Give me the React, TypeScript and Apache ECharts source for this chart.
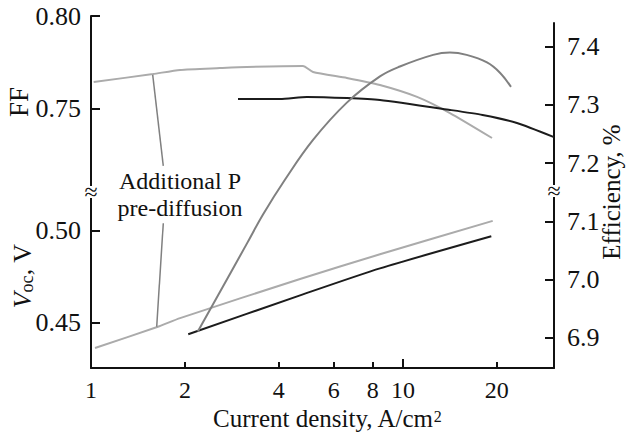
import React, { useEffect, useRef } from "react";
import * as echarts from "echarts";

// ---- tick labels ----
const xTickLabels = [1, 2, 4, 6, 8, 10, 20];
const xMinorTicks = [2, 4, 6, 8, 20];
const xMajorTicks = [10];
const ffTicks = [0.75, 0.8];
const vocTicks = [0.45, 0.5];
const effTicks = [6.9, 7.0, 7.1, 7.2, 7.3, 7.4];

// ---- FF, additional P pre-diffusion (light gray) ----
const ffPJ = [1.02, 1.58, 1.93, 2.59, 3.16, 4.78, 5.15, 6.61, 8.44, 11.1, 14.15, 19.3];
const ffP = [0.7645, 0.7688, 0.771, 0.772, 0.7726, 0.7731, 0.7699, 0.7667, 0.7629, 0.7565, 0.7478, 0.7344];

// ---- FF, reference (black) ----
const ffRefJ = [2.96, 4.04, 4.92, 6.61, 8.44, 14.15, 18.0, 23.2, 30.5];
const ffRef = [0.7554, 0.7554, 0.7565, 0.7559, 0.7548, 0.7495, 0.7468, 0.7425, 0.7349];

// ---- Voc, additional P pre-diffusion (light gray) ----
const vocPJ = [1.03, 1.63, 1.93, 4.68, 8.44, 19.4];
const vocP = [0.436, 0.4474, 0.4523, 0.4736, 0.4871, 0.5053];

// ---- Voc, reference (black) ----
const vocRefJ = [2.05, 4.68, 8.44, 19.2];
const vocRef = [0.4435, 0.4647, 0.4794, 0.4969];

// ---- Efficiency (mid gray) ----
const effJ = [2.2, 3.16, 3.56, 4.19, 5.15, 6.61, 8.44, 9.78, 12.5, 14.15, 16.0, 18.6, 20.5, 22.2];
const eff = [6.911, 7.062, 7.112, 7.172, 7.24, 7.304, 7.349, 7.366, 7.386, 7.39, 7.386, 7.373, 7.355, 7.331];

// ---- annotation leader lines (data coordinates) ----
const leaderFF = [[1.577, 0.7683], [1.705, 0.7194]];
const leaderVoc = [[1.705, 0.504], [1.624, 0.4476]];

const FONT = "'Liberation Serif', 'Times New Roman', serif";
const LIGHT = "#ababab";
const MID = "#808080";
const DARK = "#1c1c1c";
const INK = "#111111";

const zip = (xs: number[], ys: number[]) => xs.map((x, i) => [x, ys[i]]);

export default function App() {
  const ref = useRef<HTMLDivElement>(null);
  useEffect(() => {
    if (!ref.current) return;
    const chart = echarts.init(ref.current, undefined, { renderer: "svg" });
    const axisLine = { show: true, lineStyle: { color: INK, width: 2 } };
    const labelBase = { color: INK, fontFamily: FONT, fontSize: 26 };
    const option: any = {
      animation: false,
      grid: [
        { left: 91, right: 72, top: 16, bottom: 66 },
        { left: 91, right: 72, top: 23, bottom: 66 },
      ],
      xAxis: [
        {
          type: "log",
          gridIndex: 0,
          min: 1,
          max: 30.5,
          logBase: 10,
          axisLine,
          splitLine: { show: false },
          minorTick: { show: false },
          axisTick: { show: true, inside: true, length: 6, customValues: xMinorTicks, lineStyle: { color: INK, width: 2 } },
          axisLabel: { ...labelBase, fontSize: 24, lineHeight: 18, margin: 13, customValues: xTickLabels, formatter: (v: number) => String(Math.round(v)) },
        },
        {
          type: "log",
          gridIndex: 1,
          min: 1,
          max: 30.5,
          logBase: 10,
          axisLine: { show: false },
          splitLine: { show: false },
          axisTick: { show: true, inside: true, length: 9, customValues: xMajorTicks, lineStyle: { color: INK, width: 2 } },
          axisLabel: { show: false },
        },
      ],
      yAxis: [
        {
          type: "value",
          gridIndex: 0,
          position: "left",
          min: 0.61075,
          max: 0.8,
          axisLine,
          splitLine: { show: false },
          axisTick: { show: true, inside: true, length: 9, customValues: ffTicks, lineStyle: { color: INK, width: 2 } },
          axisLabel: { ...labelBase, margin: 10, customValues: ffTicks, formatter: (v: number) => v.toFixed(2) },
        },
        {
          type: "value",
          gridIndex: 0,
          position: "left",
          min: 0.42508,
          max: 0.61701,
          axisLine: { show: false },
          splitLine: { show: false },
          axisTick: { show: true, inside: true, length: 9, customValues: vocTicks, lineStyle: { color: INK, width: 2 } },
          axisLabel: { ...labelBase, margin: 10, customValues: vocTicks, formatter: (v: number) => v.toFixed(2) },
        },
        {
          type: "value",
          gridIndex: 1,
          position: "right",
          min: 6.8485,
          max: 7.4407,
          axisLine,
          splitLine: { show: false },
          axisTick: { show: true, inside: true, length: 9, customValues: effTicks, lineStyle: { color: INK, width: 2 } },
          axisLabel: { ...labelBase, margin: 13, customValues: effTicks, formatter: (v: number) => v.toFixed(1) },
        },
      ],
      series: [
        {
          type: "line",
          name: "FF P pre-diffusion",
          xAxisIndex: 0,
          yAxisIndex: 0,
          data: zip(ffPJ, ffP),
          showSymbol: false,
          smooth: 0.2,
          lineStyle: { color: LIGHT, width: 2 },
          markLine: {
            silent: true,
            symbol: ["none", "none"],
            label: { show: false },
            lineStyle: { color: MID, width: 1.5, type: "solid" },
            data: [[{ coord: leaderFF[0] }, { coord: leaderFF[1] }]],
          },
        },
        {
          type: "line",
          name: "FF reference",
          xAxisIndex: 0,
          yAxisIndex: 0,
          data: zip(ffRefJ, ffRef),
          showSymbol: false,
          smooth: 0.2,
          lineStyle: { color: DARK, width: 2 },
        },
        {
          type: "line",
          name: "Voc P pre-diffusion",
          xAxisIndex: 0,
          yAxisIndex: 1,
          data: zip(vocPJ, vocP),
          showSymbol: false,
          smooth: 0.2,
          lineStyle: { color: LIGHT, width: 2 },
          markLine: {
            silent: true,
            symbol: ["none", "none"],
            label: { show: false },
            lineStyle: { color: MID, width: 1.5, type: "solid" },
            data: [[{ coord: leaderVoc[0] }, { coord: leaderVoc[1] }]],
          },
        },
        {
          type: "line",
          name: "Voc reference",
          xAxisIndex: 0,
          yAxisIndex: 1,
          data: zip(vocRefJ, vocRef),
          showSymbol: false,
          smooth: 0.2,
          lineStyle: { color: DARK, width: 2 },
        },
        {
          type: "line",
          name: "Efficiency",
          xAxisIndex: 1,
          yAxisIndex: 2,
          data: zip(effJ, eff),
          showSymbol: false,
          smooth: 0.4,
          lineStyle: { color: MID, width: 2 },
        },
      ],
      graphic: [
        // axis breaks
        { type: "rect", shape: { x: 86, y: 186, width: 10, height: 12 }, style: { fill: "#fff" }, z: 100 },
        { type: "text", x: 91, y: 192, z: 101, style: { text: "≈", fontFamily: FONT, fontSize: 24, fill: INK, align: "center", verticalAlign: "middle" } },
        { type: "rect", shape: { x: 549, y: 185, width: 10, height: 12 }, style: { fill: "#fff" }, z: 100 },
        { type: "text", x: 554, y: 191, z: 101, style: { text: "≈", fontFamily: FONT, fontSize: 24, fill: INK, align: "center", verticalAlign: "middle" } },
        // axis names
        { type: "text", x: 19, y: 102, rotation: Math.PI / 2, style: { text: "FF", fontFamily: FONT, fontSize: 27, lineHeight: 24, fill: INK, align: "center", verticalAlign: "middle" } },
        {
          type: "text",
          x: 22,
          y: 276,
          rotation: Math.PI / 2,
          style: {
            text: "{i|V}{s|oc}{n|, V}",
            fontFamily: FONT,
            fill: INK,
            align: "center",
            verticalAlign: "middle",
            rich: {
              i: { fontFamily: FONT, fontSize: 26, fontStyle: "italic", fill: INK, lineHeight: 28 },
              s: { fontFamily: FONT, fontSize: 18, fill: INK, verticalAlign: "bottom", lineHeight: 28 },
              n: { fontFamily: FONT, fontSize: 26, fill: INK, lineHeight: 28 },
            },
          },
        },
        { type: "text", x: 611, y: 192, rotation: Math.PI / 2, style: { text: "Efficiency, %", fontFamily: FONT, fontSize: 25, lineHeight: 18, fill: INK, align: "center", verticalAlign: "middle" } },
        {
          type: "text",
          x: 327,
          y: 418,
          style: {
            text: "{a|Current density, A/cm}{b|2}",
            fontFamily: FONT,
            fill: INK,
            align: "center",
            verticalAlign: "middle",
            rich: {
              a: { fontFamily: FONT, fontSize: 25, fill: INK, lineHeight: 20 },
              b: { fontFamily: FONT, fontSize: 16, fill: INK, verticalAlign: "top", lineHeight: 20 },
            },
          },
        },
        // annotation
        { type: "text", x: 180, y: 181, style: { text: "Additional P", fontFamily: FONT, fontSize: 24, lineHeight: 20, fill: INK, align: "center", verticalAlign: "middle" } },
        { type: "text", x: 180, y: 208, style: { text: "pre-diffusion", fontFamily: FONT, fontSize: 24, lineHeight: 20, fill: INK, align: "center", verticalAlign: "middle" } },
      ],
    };
    chart.setOption(option);
    return () => chart.dispose();
  }, []);
  return <div ref={ref} style={{ width: 626, height: 434, position: "absolute", left: 0, top: 0 }} />;
}
